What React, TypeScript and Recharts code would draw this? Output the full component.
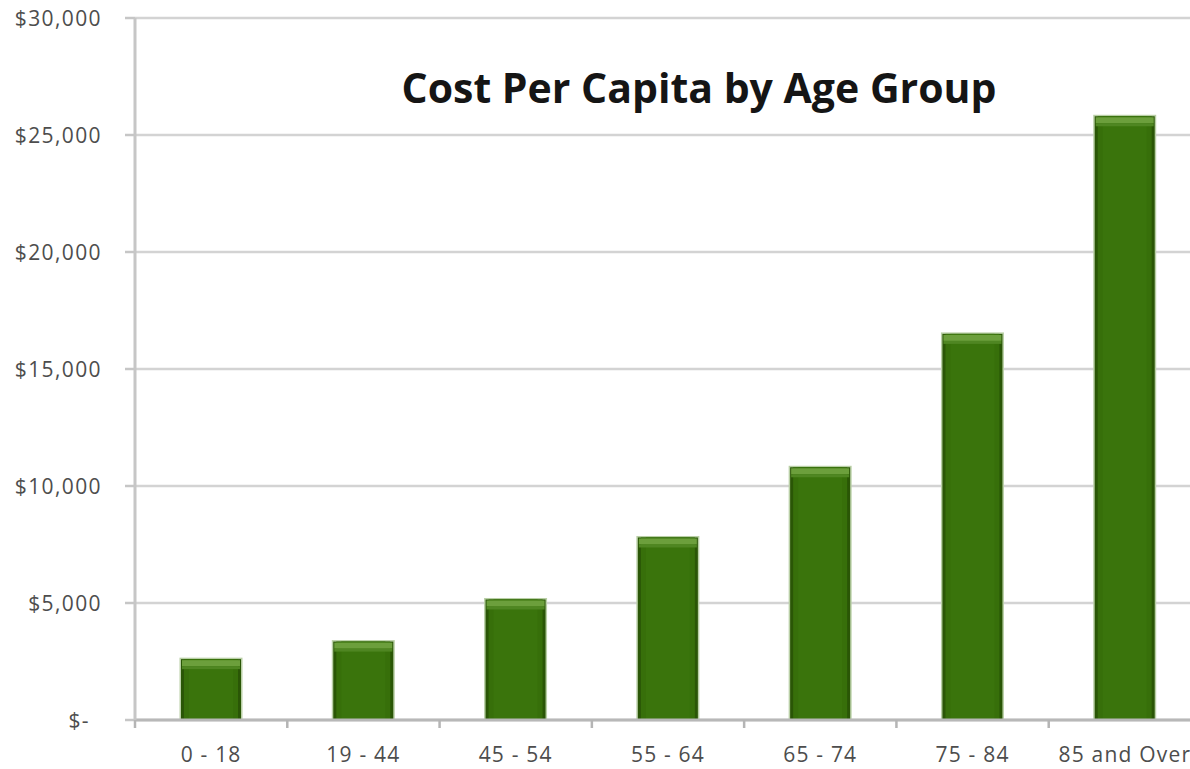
import { BarChart, Bar, XAxis, YAxis, CartesianGrid } from "recharts";

const AGE_GROUPS = ["0 - 18", "19 - 44", "45 - 54", "55 - 64", "65 - 74", "75 - 84", "85 and Over"];
const COST_PER_CAPITA = [2600, 3350, 5150, 7800, 10800, 16500, 25800];
const Y_TICKS = [0, 5000, 10000, 15000, 20000, 25000, 30000];

const data = AGE_GROUPS.map((group, i) => ({ group, cost: COST_PER_CAPITA[i] }));

// layout
const CHART_W = 1210;
const CHART_H = 769;
const Y_AXIS_W = 135;
const MARGIN = { top: 18, right: 9, bottom: 0, left: 0 };
const X_AXIS_H = 49;
const HALF_BAND = (CHART_W - Y_AXIS_W - MARGIN.right) / AGE_GROUPS.length / 2;

const FONT = "'Open Sans', 'DejaVu Sans', sans-serif";
const TICK_COLOR = "#4d4d4d";

const formatMoney = (v: number) => (v === 0 ? "$-" : `$${v.toLocaleString("en-US")}`);

// Excel-style bevelled bar: light halo, dark edges, lighter top cap
const BevelBar = (props: any) => {
  const { x, y, width, height } = props;
  if (!height || height <= 0) return null;
  const cap = Math.min(6, height);
  return (
    <g>
      <rect x={x - 1.5} y={y - 1.5} width={width + 3} height={height + 1.5} fill="#b9cfa6" />
      <rect x={x} y={y} width={width} height={height} fill="#2a5606" />
      <rect x={x + 3} y={y} width={width - 6} height={height} fill="#376f0a" />
      <rect x={x + 8} y={y} width={width - 16} height={height} fill="#3a740c" />
      <rect x={x + 1} y={y + 1} width={width - 2} height={cap} fill="#6c9f3c" />
      <rect x={x + 1} y={y + 1 + cap} width={width - 2} height={Math.min(3, height - cap)} fill="#4f8622" />
    </g>
  );
};

const XTick = (props: any) => {
  const { x, y, payload, index } = props;
  return (
    <g>
      <line x1={x - HALF_BAND} x2={x - HALF_BAND} y1={y - 9} y2={y - 1} stroke="#b5b5b5" strokeWidth={2.5} />
      {index === AGE_GROUPS.length - 1 && (
        <line x1={x + HALF_BAND} x2={x + HALF_BAND} y1={y - 9} y2={y - 1} stroke="#b5b5b5" strokeWidth={2.5} />
      )}
      <text x={x} y={y + 33} textAnchor="middle" fill={TICK_COLOR} fontSize={21} letterSpacing={1.2} fontFamily={FONT}>
        {payload.value}
      </text>
    </g>
  );
};

const YTick = (props: any) => {
  const { x, y, payload } = props;
  const shift = payload.value === 0 ? 33 : 21;
  return (
    <text x={x - shift} y={y} dy="0.36em" textAnchor="end" fill={TICK_COLOR} fontSize={21} letterSpacing={1.4} fontFamily={FONT}>
      {formatMoney(payload.value)}
    </text>
  );
};

export default function App() {
  return (
    <div style={{ position: "fixed", left: 0, top: 0, width: 1190, height: 769, overflow: "hidden", background: "#ffffff" }}>
      <BarChart width={CHART_W} height={CHART_H} data={data} margin={MARGIN} barSize={60}>
        <CartesianGrid horizontal vertical={false} stroke="#d3d3d3" strokeWidth={2.5} />
        <XAxis
          dataKey="group"
          height={X_AXIS_H}
          axisLine={{ stroke: "#b8b8b8", strokeWidth: 3 }}
          tickLine={false}
          tickSize={7}
          tickMargin={2}
          interval={0}
          tick={<XTick />}
        />
        <YAxis
          width={Y_AXIS_W}
          domain={[0, 30000]}
          ticks={Y_TICKS}
          interval={0}
          axisLine={{ stroke: "#c6c6c6", strokeWidth: 3 }}
          tickLine={{ stroke: "#c6c6c6", strokeWidth: 2.5 }}
          tickSize={10}
          tickMargin={2}
          tick={<YTick />}
        />
        <Bar dataKey="cost" shape={<BevelBar />} isAnimationActive={false} />
      </BarChart>
      <div
        style={{
          position: "absolute",
          left: 0,
          top: 62,
          width: 1398,
          textAlign: "center",
          fontFamily: FONT,
          fontWeight: 700,
          fontSize: 41,
          color: "#151515",
          lineHeight: "50px",
          whiteSpace: "nowrap",
        }}
      >
        Cost Per Capita by Age Group
      </div>
    </div>
  );
}
